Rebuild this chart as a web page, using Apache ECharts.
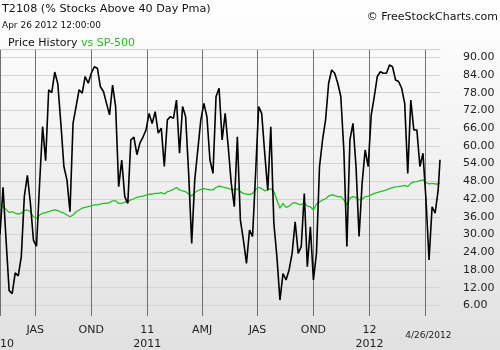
<!DOCTYPE html>
<html>
<head>
<meta charset="utf-8">
<script src="https://cdn.jsdelivr.net/npm/echarts@6/dist/echarts.min.js"></script>
<style>html,body{margin:0;padding:0;}#c{width:500px;height:350px;}</style>
</head>
<body>
<div id="c"></div>
<script>
const dates = [
'2010-05-04','2010-05-09','2010-05-14','2010-05-19','2010-05-24','2010-05-29','2010-06-03','2010-06-08','2010-06-13','2010-06-18',
'2010-06-23','2010-06-28','2010-07-03','2010-07-08','2010-07-13','2010-07-18','2010-07-23','2010-07-28','2010-08-02','2010-08-07',
'2010-08-12','2010-08-17','2010-08-22','2010-08-27','2010-09-01','2010-09-06','2010-09-11','2010-09-16','2010-09-21','2010-09-26',
'2010-10-01','2010-10-06','2010-10-11','2010-10-16','2010-10-21','2010-10-26','2010-10-31','2010-11-05','2010-11-10','2010-11-15',
'2010-11-20','2010-11-25','2010-11-30','2010-12-05','2010-12-10','2010-12-15','2010-12-20','2010-12-25','2010-12-30','2011-01-04',
'2011-01-09','2011-01-14','2011-01-19','2011-01-24','2011-01-29','2011-02-03','2011-02-08','2011-02-13','2011-02-18','2011-02-23',
'2011-02-28','2011-03-05','2011-03-10','2011-03-15','2011-03-20','2011-03-25','2011-03-30','2011-04-04','2011-04-09','2011-04-14',
'2011-04-19','2011-04-24','2011-04-29','2011-05-04','2011-05-09','2011-05-14','2011-05-19','2011-05-24','2011-05-29','2011-06-03',
'2011-06-08','2011-06-13','2011-06-18','2011-06-23','2011-06-28','2011-07-03','2011-07-08','2011-07-13','2011-07-18','2011-07-23',
'2011-07-28','2011-08-02','2011-08-07','2011-08-12','2011-08-17','2011-08-22','2011-08-27','2011-09-01','2011-09-06','2011-09-11',
'2011-09-16','2011-09-21','2011-09-26','2011-10-01','2011-10-06','2011-10-11','2011-10-16','2011-10-21','2011-10-26','2011-10-31',
'2011-11-05','2011-11-10','2011-11-15','2011-11-20','2011-11-25','2011-11-30','2011-12-05','2011-12-10','2011-12-15','2011-12-20',
'2011-12-25','2011-12-30','2012-01-04','2012-01-09','2012-01-14','2012-01-19','2012-01-24','2012-01-29','2012-02-03','2012-02-08',
'2012-02-13','2012-02-18','2012-02-23','2012-02-28','2012-03-04','2012-03-09','2012-03-14','2012-03-19','2012-03-24','2012-03-29',
'2012-04-03','2012-04-08','2012-04-13','2012-04-18','2012-04-23','2012-04-26'
];
const t2108 = [
30,46,28,11,10,17,16,22.5,43,50,
40.5,28,26,47,66.5,55,79,78,85,81,
67.6,53,48.5,37.7,67.6,73.3,79,77.8,83.5,81.2,
84.6,86.8,86.3,80,78.4,74.4,70.5,80.6,73.3,46.2,
55.2,42.8,40.5,62,63,57,61,63,65.4,71,
67.6,71.6,64.3,66,53,68.8,69.9,69.3,75.5,57.5,
73.3,69.9,50.7,27,48.5,58.6,68.8,74.4,69.9,55.2,
50.7,76.7,79.5,62,71,59.7,47.3,39.4,63.1,34.9,
28.1,20.2,31.5,29.3,50.7,73.3,71,57.5,45,66.5,
33.8,22.5,7.8,16.8,14.6,18,23.6,34.3,23.6,25.9,
43.9,19.1,32.6,14.6,23.6,53,62,68.8,81.2,85.7,
84.6,81.2,76.7,58.6,25.9,62,67.6,53,29.3,47.3,
58.6,53,70.5,76.7,83.5,85.1,84.6,84.6,87.4,86.8,
82.3,81.8,79.5,74.4,50.7,75.5,65.4,65.4,53,57.5,
41.7,21.4,39.4,37.2,45,55.29
];
const sp500 = [
38.9,39.4,38.5,37.4,37.7,37.2,36.9,37.2,38.1,38.3,
37.7,36,35.5,36.6,37.2,37.4,37.7,38.1,38.3,38.1,
37.6,37.2,36.6,36,36.6,37.7,38.3,38.9,39.2,39.4,
39.7,40,40,40.3,40.5,40.5,40.8,41.4,41.4,40.5,
40.5,41,41.1,41.7,42.1,42.6,42.8,43,43.3,43.6,
43.7,43.9,43.9,44.2,43.7,44.5,44.8,45.3,45.9,45.1,
44.8,44.5,43.7,43,44.2,44.8,45.3,45.5,45.3,45.1,
45.1,45.9,46.4,46.1,45.9,45.6,45.3,45.1,45.4,44.5,
43.9,43.7,43.5,43.9,45.3,46,45.5,44.8,45.1,45.5,
44.5,41.7,38.9,40.5,39.2,39.6,40.5,40.8,40.3,40.1,
40.8,39.6,39.4,38.3,40.3,41,41.7,42.1,43,43.4,
43.2,42.8,42.8,41.7,40,42.3,42.8,42.5,41.7,41.9,
42.8,43,43.4,43.9,44.2,44.5,44.8,45.1,45.5,45.9,
46.1,46.2,46.4,46.6,46.2,47.3,47.8,47.9,48.2,48.5,
47.6,47.1,47.3,47.1,47.1,47.5
];
const yTicks = [6,12,18,24,30,36,42,48,54,60,66,72,78,84,90];
const xTickDates = ['2010-05-04','2010-07-01','2010-10-01','2011-01-01','2011-04-01','2011-07-01','2011-10-01','2012-01-01','2012-04-01'];
const xTickLabels = ['\n2010','JAS','OND','11\n2011','AMJ','JAS','OND','12\n2012','{d|4/26/2012}'];
const lastValueText = '55.29';

function ts(s){const p=s.split('-');return new Date(+p[0],+p[1]-1,+p[2]).getTime();}
const xTickVals = xTickDates.map(ts);
const labelMap = {};
xTickVals.forEach((v,i)=>{labelMap[v]=xTickLabels[i];});
const blackData = dates.map((d,i)=>[ts(d),t2108[i]]);
const greenData = dates.map((d,i)=>[ts(d),sp500[i]]);
const xMin = ts(dates[0]), xMax = ts(dates[dates.length-1]);

const FONT = 'DejaVu Sans';
const chart = echarts.init(document.getElementById('c'), null, {renderer:'canvas'});
chart.setOption({
  animation:false,
  backgroundColor: new echarts.graphic.LinearGradient(0,0,0,1,[{offset:0,color:'#ffffff'},{offset:1,color:'#e1e1e1'}]),
  textStyle:{fontFamily:FONT},
  title:[
    {text:'T2108 (% Stocks Above 40 Day Pma)',left:2,top:3.5,padding:0,textStyle:{fontFamily:FONT,fontSize:11.2,fontWeight:'normal',color:'#111'}},
    {text:'Apr 26 2012 12:00:00',left:2,top:21,padding:0,textStyle:{fontFamily:FONT,fontSize:9,fontWeight:'normal',color:'#111'}},
    {text:'Price History {g|vs SP-500}',left:8,top:37.5,padding:0,textStyle:{fontFamily:FONT,fontSize:11,fontWeight:'normal',color:'#111',rich:{g:{fontFamily:FONT,fontSize:11,color:'#22bb22'}}}},
    {text:'© FreeStockCharts.com',right:2,top:11.5,padding:0,textStyle:{fontFamily:FONT,fontSize:11,fontWeight:'normal',color:'#111'}}
  ],
  grid:{left:0,right:60,top:49,bottom:34,show:false,containLabel:false,outerBoundsMode:'none'},
  xAxis:[{
    type:'value',
    min:xMin,max:xMax,
    axisLine:{show:false},
    axisTick:{show:false,customValues:xTickVals},
    splitLine:{show:true,lineStyle:{color:'#707070',width:1}},
    axisLabel:{
      customValues:xTickVals,
      margin:7,alignMinLabel:'center',alignMaxLabel:'center',hideOverlap:false,
      fontFamily:FONT,fontSize:11,color:'#222',lineHeight:14,
      formatter:function(v){return labelMap[v]!==undefined?labelMap[v]:'';},
      rich:{d:{fontFamily:FONT,fontSize:9,color:'#222',padding:[11,0,0,7]}}
    }
  },{
    type:'value',position:'top',min:xMin,max:xMax,
    axisLine:{show:true,onZero:false,lineStyle:{color:'#cfcfcf',width:1}},
    axisTick:{show:false},axisLabel:{show:false},splitLine:{show:false}
  }],
  yAxis:{
    type:'value',position:'right',
    min:2.4,max:92.8,
    axisLine:{show:false},
    axisTick:{show:false,customValues:yTicks},
    splitLine:{show:true,lineStyle:{color:'#d4d4d4',width:1}},
    axisLabel:{customValues:yTicks,margin:23,fontFamily:FONT,fontSize:11,color:'#222',
      formatter:function(v){return v.toFixed(2);}}
  },
  series:[
    {type:'line',data:greenData,showSymbol:false,symbol:'none',lineStyle:{color:'#22c022',width:1.3},z:2},
    {type:'line',data:blackData,showSymbol:false,symbol:'none',lineStyle:{color:'#000000',width:1.6},z:3,
     markLine:{silent:true,symbol:'none',lineStyle:{opacity:0},
       data:[{yAxis:t2108[t2108.length-1]}],
       label:{position:'end',distance:23,formatter:lastValueText,fontFamily:FONT,fontSize:11,color:'#222',
         backgroundColor:'#ffffff',borderColor:'#333',borderWidth:1,borderRadius:3,padding:[2,2,1,2]}}}
  ]
});
</script>
</body>
</html>
